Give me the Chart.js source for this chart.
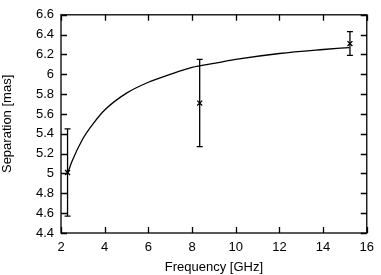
<!DOCTYPE html>
<html>
<head>
<meta charset="utf-8">
<script src="https://cdn.jsdelivr.net/npm/chart.js@4/dist/chart.umd.min.js"></script>
<style>
  html, body { margin: 0; padding: 0; background: #fff; }
  #wrap { width: 381px; height: 275px; }
</style>
</head>
<body>
<div id="wrap"><canvas id="sepChart" width="381" height="275"></canvas></div>
<script>
// --- Data ---
const freqGHz = [2.3, 8.35, 15.23];
const separationMas = [5.01, 5.71, 6.31];
const separationErr = [0.44, 0.44, 0.12];

// fitted curve, sampled by eye
const fitFreq = [2.3, 2.5, 3, 3.5, 4, 5, 6, 7, 8, 9, 10, 12, 14, 15.2];
const fitSep = [5.00, 5.12, 5.35, 5.51, 5.64, 5.81, 5.92, 6.00, 6.07, 6.11, 6.15, 6.21, 6.25, 6.27];

const xTicks = [2, 4, 6, 8, 10, 12, 14, 16];
const yTicks = [4.4, 4.6, 4.8, 5, 5.2, 5.4, 5.6, 5.8, 6, 6.2, 6.4, 6.6];

const FONT = 'Liberation Sans, Arial, Helvetica, sans-serif';

// error bars with small caps
const errorBarPlugin = {
    id: 'errorBars',
    afterDatasetsDraw(chart) {
        const ctx = chart.ctx;
        const x = chart.scales.x, y = chart.scales.y;
        ctx.save();
        ctx.strokeStyle = '#000';
        ctx.lineWidth = 1.3;
        freqGHz.forEach((f, i) => {
            const px = x.getPixelForValue(f);
            const top = y.getPixelForValue(separationMas[i] + separationErr[i]);
            const bot = y.getPixelForValue(separationMas[i] - separationErr[i]);
            ctx.beginPath();
            ctx.moveTo(px, top); ctx.lineTo(px, bot);
            ctx.moveTo(px - 3, top); ctx.lineTo(px + 3, top);
            ctx.moveTo(px - 3, bot); ctx.lineTo(px + 3, bot);
            ctx.stroke();
        });
        ctx.restore();
    }
};

// gnuplot-like frame with inward ticks on all four sides
const framePlugin = {
    id: 'frame',
    afterDraw(chart) {
        const ctx = chart.ctx;
        const a = chart.chartArea;
        const x = chart.scales.x, y = chart.scales.y;
        const len = 6;
        ctx.save();
        ctx.strokeStyle = '#000';
        ctx.lineWidth = 1.3;
        ctx.beginPath();
        xTicks.forEach(v => {
            const px = Math.round(x.getPixelForValue(v)) + 0.5;
            ctx.moveTo(px, a.bottom); ctx.lineTo(px, a.bottom - len);
            ctx.moveTo(px, a.top); ctx.lineTo(px, a.top + len);
        });
        yTicks.forEach(v => {
            const py = Math.round(y.getPixelForValue(v)) + 0.5;
            ctx.moveTo(a.left, py); ctx.lineTo(a.left + len, py);
            ctx.moveTo(a.right, py); ctx.lineTo(a.right - len, py);
        });
        ctx.stroke();
        ctx.strokeRect(a.left, a.top, a.right - a.left, a.bottom - a.top);
        ctx.restore();
    }
};

new Chart(document.getElementById('sepChart'), {
    type: 'scatter',
    data: {
        datasets: [
            {
                label: 'Measured',
                data: freqGHz.map((f, i) => ({ x: f, y: separationMas[i] })),
                pointStyle: 'crossRot',
                pointRadius: 3.5,
                borderColor: '#000',
                borderWidth: 1.3,
                showLine: false
            },
            {
                label: 'Fit',
                data: fitFreq.map((f, i) => ({ x: f, y: fitSep[i] })),
                showLine: true,
                pointRadius: 0,
                borderColor: '#000',
                borderWidth: 1.3,
                cubicInterpolationMode: 'monotone'
            }
        ]
    },
    options: {
        responsive: false,
        animation: false,
        layout: { padding: { top: 6, right: 8, left: 0, bottom: 0 } },
        plugins: { legend: { display: false }, tooltip: { enabled: false } },
        scales: {
            x: {
                type: 'linear', min: 2, max: 16,
                grid: { display: false, drawTicks: false },
                border: { display: false },
                afterBuildTicks: s => { s.ticks = xTicks.map(v => ({ value: v })); },
                afterFit: s => { s.height = 42; },
                ticks: { color: '#000', padding: 7, maxRotation: 0, font: { family: FONT, size: 13 } },
                title: { display: true, text: 'Frequency [GHz]', color: '#000', padding: { top: 2, bottom: 0 }, font: { family: FONT, size: 13 } }
            },
            y: {
                type: 'linear', min: 4.4, max: 6.6,
                grid: { display: false, drawTicks: false },
                border: { display: false },
                afterBuildTicks: s => { s.ticks = yTicks.map(v => ({ value: v })); },
                afterFit: s => { s.width = 61; },
                ticks: { color: '#000', padding: 7, callback: v => String(+v.toFixed(1)), font: { family: FONT, size: 13 } },
                title: { display: true, text: 'Separation [mas]', color: '#000', padding: { top: 0, bottom: 2 }, font: { family: FONT, size: 13 } }
            }
        }
    },
    plugins: [errorBarPlugin, framePlugin]
});
</script>
</body>
</html>
